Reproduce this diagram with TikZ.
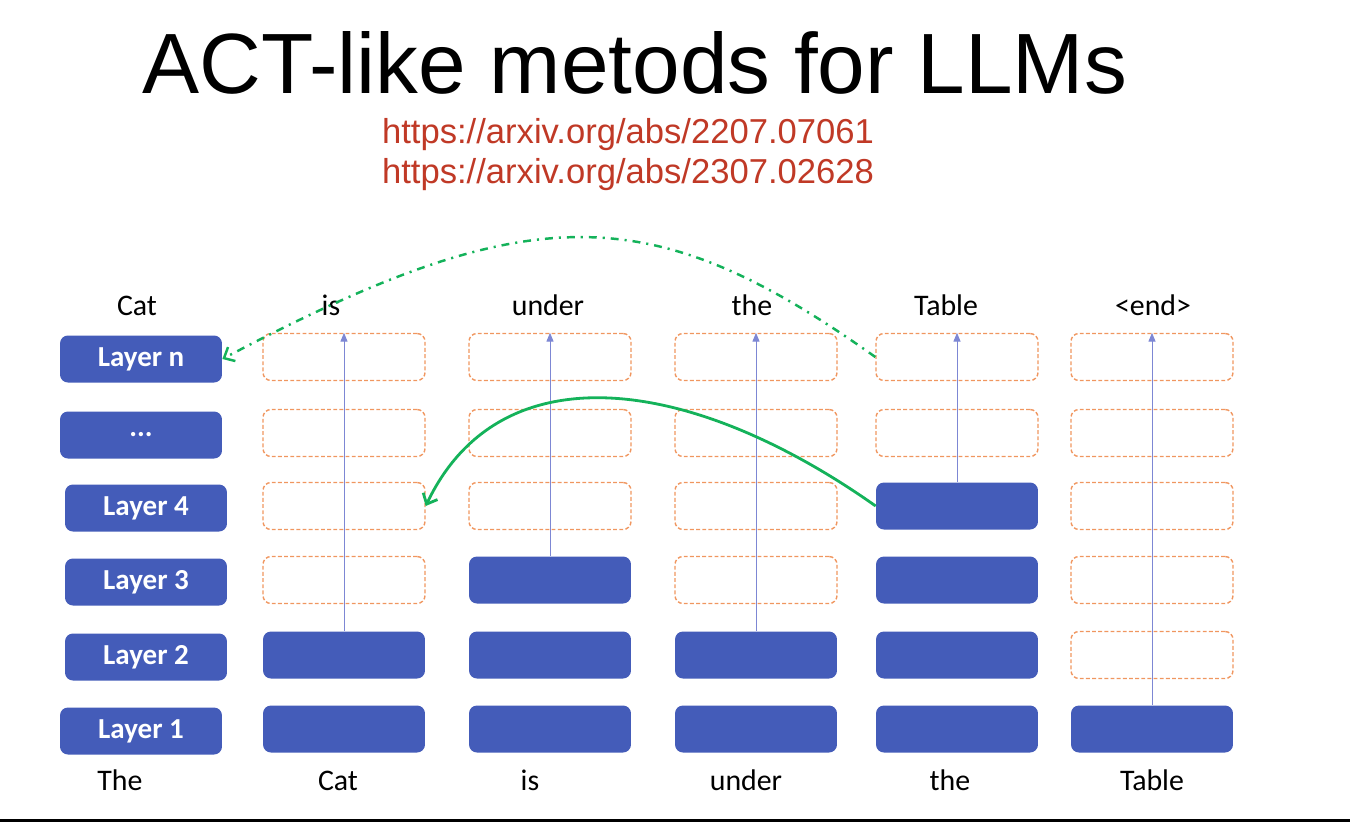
\documentclass[tikz,border=0pt]{standalone}
\usepackage{fontspec}
\setmainfont{Carlito}
\newfontfamily\arialfont{Liberation Sans}
\usepackage{tikz}
\usetikzlibrary{arrows.meta,positioning}
\definecolor{boxblue}{RGB}{68,92,185}
\definecolor{edgeorange}{RGB}{240,150,95}
\definecolor{pathgreen}{RGB}{20,178,90}
\definecolor{linkred}{RGB}{192,57,38}
\definecolor{flowblue}{RGB}{125,135,212}
\tikzset{
  basic/.style  = {rectangle, rounded corners=4.5pt, minimum width=3.24cm,
                   minimum height=0.94cm, inner sep=0pt},
  layer/.style  = {basic, fill=boxblue, text=white, font=\fontsize{16.5}{18}\selectfont\bfseries},
  block/.style  = {basic, fill=boxblue},
  empty/.style  = {basic, draw=edgeorange, line width=0.8pt, dash pattern=on 2.2pt off 1.3pt},
  word/.style   = {anchor=base, font=\fontsize{17}{19}\selectfont},
  flow/.style   = {draw=flowblue, line width=0.5pt, -{Triangle[length=5pt,width=4pt]}},
  jump/.style   = {draw=pathgreen, line width=1.6pt, -{Straight Barb[length=5pt,width=9pt]}}
}

\begin{document}
\begin{tikzpicture}[x=0.02cm,y=-0.02cm]
\useasboundingbox (0,0) rectangle (1350,822);

% title and the two papers
\node[anchor=base, font=\arialfont\fontsize{48.7}{54}\selectfont] (title) at (635,93) {ACT-like metods for LLMs};
\node[anchor=base, text=linkred, font=\arialfont\fontsize{19.7}{22}\selectfont] (url1) at (628,143) {https://arxiv.org/abs/2207.07061};
\node[anchor=base, text=linkred, font=\arialfont\fontsize{19.7}{22}\selectfont] (url2) at (628,183) {https://arxiv.org/abs/2307.02628};

% layer names, row 1 is the bottom one
\node[layer] (L6) at (141,359) {Layer n};
\node[layer] (L5) at (141,435) {...};
\node[layer] (L4) at (146,508) {Layer 4};
\node[layer] (L3) at (146,582) {Layer 3};
\node[layer] (L2) at (146,657) {Layer 2};
\node[layer] (L1) at (141,731) {Layer 1};

% cells: filled up to the exit layer, dashed above it
\foreach \c/\x/\f in {1/344/2,2/550/3,3/756/2,4/957/4,5/1152/1}
  \foreach \r/\y in {1/729,2/655,3/580,4/506,5/433,6/357}
  {
    \ifnum\r>\f
      \node[empty] (c\c\r) at (\x,\y) {};
    \else
      \node[block] (c\c\r) at (\x,\y) {};
    \fi
  }

% tokens in and out
\node[word] (i0) at (120,790) {The};
\node[word] (i1) at (338,790) {Cat};
\node[word] (i2) at (530,790) {is};
\node[word] (i3) at (746,790) {under};
\node[word] (i4) at (950,790) {the};
\node[word] (i5) at (1152,790) {Table};

\node[word] (o0) at (137,315) {Cat};
\node[word] (o1) at (331,315) {is};
\node[word] (o2) at (548,315) {under};
\node[word] (o3) at (752,315) {the};
\node[word] (o4) at (946,315) {Table};
\node[word] (o5) at (1153,315) {<end>};

\foreach \c/\f in {1/2,2/3,3/2,4/4,5/1}
  \draw[flow] (c\c\f.north) -- (c\c6.north);

% copied states
\draw[jump] (c44.west) .. controls (690,375) and (500,350) .. (c14.east);
\draw[jump, line width=1.4pt, dash pattern=on 4.5pt off 3.4pt on 1.2pt off 3.4pt]
  (c46.west) .. controls (650,197) and (530,197) .. (L6.east);

\fill[black] (0,819) rectangle (1350,822);
\end{tikzpicture}
\end{document}
